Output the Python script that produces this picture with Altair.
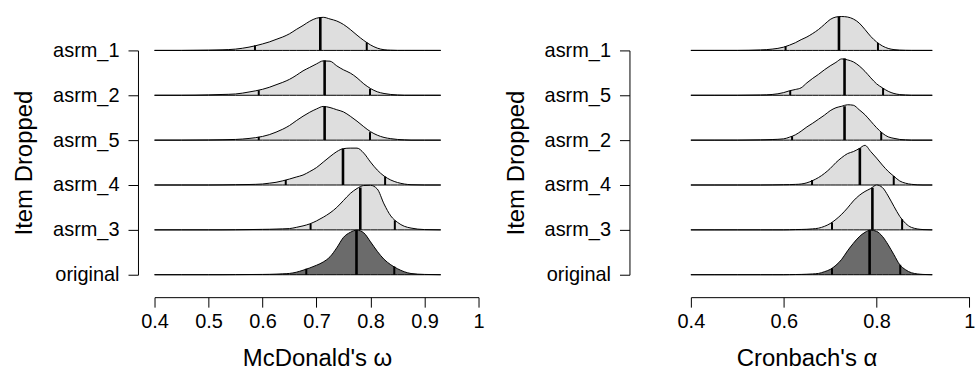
import altair as alt
import pandas as pd

# ---------------- data ----------------
# McDonald's omega panel (rows listed top to bottom)
OMEGA_ITEMS = ["asrm_1", "asrm_2", "asrm_5", "asrm_4", "asrm_3", "original"]
OMEGA_GRID = [0.40, 0.45, 0.50, 0.525, 0.55, 0.575, 0.60, 0.6125, 0.625, 0.6375,
              0.65, 0.6625, 0.675, 0.6875, 0.70, 0.7125, 0.725, 0.7375, 0.75, 0.7625,
              0.775, 0.7875, 0.80, 0.8125, 0.825, 0.8375, 0.85, 0.8625, 0.875, 0.90, 0.93]
OMEGA_ASRM_1 = [0, 0, 0.3, 0.6, 1.3, 3.3, 6.5, 8.5, 11, 13.5, 16.7, 21, 25, 29.3, 32.3, 33.2,
                31.5, 29.5, 26, 21, 15.3, 10, 5.5, 2.3, 0.7, 0.2, 0, 0, 0, 0, 0]
OMEGA_ASRM_2 = [0, 0, 0.4, 0.8, 1.3, 3.3, 6, 8, 10.5, 13, 16, 20, 24.5, 28, 31.5, 34.5,
                34.2, 29.5, 25.5, 22.3, 17.5, 11.5, 6.8, 3.5, 1.8, 0.8, 0.3, 0, 0, 0, 0]
OMEGA_ASRM_5 = [0, 0, 0.2, 0.4, 0.7, 1.7, 3.7, 5.5, 8, 11, 14.7, 19.5, 24, 28, 31.3, 33.8,
                32.7, 30.5, 28.3, 24, 19, 13.5, 8.5, 5, 2.7, 1.5, 0.7, 0.3, 0, 0, 0]
OMEGA_ASRM_4 = [0, 0, 0, 0.1, 0.3, 0.5, 1, 1.8, 2.7, 4.2, 6, 8, 10, 13.5, 17.5, 23,
                28.5, 33.5, 36.5, 37, 37, 32, 23, 15, 9, 5, 2.5, 1, 0.3, 0, 0]
OMEGA_ASRM_3 = [0, 0, 0, 0, 0.1, 0.3, 0.5, 0.6, 0.8, 1, 1.3, 2.5, 4, 6, 9, 12.7,
                17, 22.5, 29.5, 36.5, 41.5, 44.5, 44.7, 41, 26, 14, 7.5, 3.6, 1.8, 0.3, 0]
OMEGA_ORIGINAL = [0, 0, 0, 0, 0.1, 0.2, 0.3, 0.4, 0.6, 0.9, 1.3, 2.5, 4.5, 6.8, 9.5, 12.8,
                  18, 27, 37.5, 42.5, 44.7, 42, 33, 23.5, 15.5, 10, 6, 3, 1.2, 0.3, 0]
OMEGA_MEDIAN = [0.707, 0.715, 0.715, 0.749, 0.781, 0.774]
OMEGA_LOWER = [0.586, 0.593, 0.593, 0.643, 0.689, 0.681]
OMEGA_UPPER = [0.793, 0.799, 0.799, 0.827, 0.845, 0.844]
OMEGA_MEDIAN_H = [33.3, 35, 34, 36.5, 42.5, 44.7]
OMEGA_LOWER_H = [5, 5, 3.3, 5, 6, 6]
OMEGA_UPPER_H = [8, 6.5, 8, 8.5, 9.5, 8.3]

# Cronbach's alpha panel (rows listed top to bottom)
ALPHA_ITEMS = ["asrm_1", "asrm_5", "asrm_2", "asrm_4", "asrm_3", "original"]
ALPHA_GRID = [0.40, 0.45, 0.50, 0.55, 0.575, 0.60, 0.6125, 0.625, 0.6375, 0.65,
              0.6625, 0.675, 0.6875, 0.70, 0.7125, 0.725, 0.7375, 0.75, 0.7625, 0.775,
              0.7875, 0.80, 0.8125, 0.825, 0.8375, 0.85, 0.8625, 0.875, 0.90, 0.92]
ALPHA_ASRM_1 = [0, 0, 0, 0.5, 1.3, 3.3, 5.3, 7.7, 10.8, 13.5, 17, 21, 26, 31, 33.5,
                34, 33.5, 31.5, 27.5, 21, 14, 8.5, 4.5, 2, 0.8, 0.3, 0.1, 0, 0, 0]
ALPHA_ASRM_5 = [0, 0, 0, 0.3, 0.8, 2.7, 4.5, 5.8, 7.5, 12.5, 17, 21, 25.5, 29.5, 33,
                36.5, 35.5, 33.5, 29.5, 24, 17.5, 11.5, 7.5, 4, 1.8, 0.7, 0.3, 0, 0, 0]
ALPHA_ASRM_2 = [0, 0, 0, 0.3, 0.6, 1.3, 3, 5.3, 9, 13.3, 17, 21, 25, 29.5, 32.5,
                34, 35.5, 35, 30.5, 25.5, 19, 12.5, 7, 3.3, 1.8, 0.7, 0.3, 0, 0, 0]
ALPHA_ASRM_4 = [0, 0, 0, 0, 0.1, 0.3, 0.4, 0.6, 1, 2.2, 4.5, 7.5, 11.5, 16.5, 22.5,
                27.5, 31.5, 33.5, 36.5, 39.8, 33.5, 27, 20, 13.7, 8.7, 4, 1.8, 0.7, 0, 0]
ALPHA_ASRM_3 = [0, 0, 0, 0, 0, 0, 0.1, 0.3, 0.4, 0.6, 1, 1.7, 3.5, 6.3, 10.5,
                15.7, 22, 29, 34.5, 38.5, 41.5, 45, 42.5, 34, 23.5, 13.5, 6.5, 2.5, 0.3, 0]
ALPHA_ORIGINAL = [0, 0, 0, 0, 0, 0, 0.1, 0.2, 0.3, 0.5, 0.8, 1.3, 3, 5.3, 9.5,
                  15.5, 24, 31.5, 38, 42.5, 44.7, 43.5, 38.5, 30, 20, 10, 5, 2, 0.3, 0]
ALPHA_MEDIAN = [0.719, 0.731, 0.731, 0.764, 0.791, 0.785]
ALPHA_LOWER = [0.604, 0.614, 0.618, 0.661, 0.704, 0.704]
ALPHA_UPPER = [0.803, 0.814, 0.810, 0.837, 0.855, 0.851]
ALPHA_MEDIAN_H = [34, 37, 34, 37, 42.3, 44.7]
ALPHA_LOWER_H = [4.3, 4.7, 4, 5, 7.3, 6.5]
ALPHA_UPPER_H = [7.5, 7.3, 8, 9, 10.7, 10]

OMEGA_TICKS = [0.4, 0.5, 0.6, 0.7, 0.8, 0.9, 1.0]
ALPHA_TICKS = [0.4, 0.6, 0.8, 1.0]

# ridge scale: density units that fill one row
RIDGE_SCALE = 45.0
FONT = "Liberation Sans"


def frames(items, grid, curves, med, lo, hi, med_h, lo_h, hi_h):
    n = len(items)
    area_rows, rule_rows = [], []
    for i, item in enumerate(items):
        row = n - 1 - i
        kind = "original" if item == "original" else "dropped"
        for x, h in zip(grid, curves[i]):
            area_rows.append({"item": item, "x": x, "base": row,
                              "top": row + h / RIDGE_SCALE, "kind": kind})
        for x, h, part in ((med[i], med_h[i], "median"),
                           (lo[i], lo_h[i], "ci"), (hi[i], hi_h[i], "ci")):
            rule_rows.append({"item": item, "x": x, "base": row,
                              "top": row + h / RIDGE_SCALE, "part": part})
    return pd.DataFrame(area_rows), pd.DataFrame(rule_rows)


def panel(items, grid, curves, med, lo, hi, med_h, lo_h, hi_h,
          width, ticks, xtitle, y_offset, title_x):
    areas, rules = frames(items, grid, curves, med, lo, hi, med_h, lo_h, hi_h)
    labels = list(reversed(items))
    label_expr = "[" + ",".join("'%s'" % s for s in labels) + "][datum.value]"
    xenc = alt.X("x:Q", scale=alt.Scale(domain=[0.4, 1.0], nice=False, zero=False),
                 axis=alt.Axis(values=ticks, format="~g", title=xtitle, offset=22.5,
                               tickSize=10, labelPadding=4, titlePadding=16,
                               titleX=title_x, titleAlign="center", labelFlush=False,
                               grid=False))
    yenc = alt.Y("top:Q", scale=alt.Scale(domain=[0, len(items) - 1], nice=False, zero=False),
                 axis=alt.Axis(values=list(range(len(items))), labelExpr=label_expr,
                               title="Item Dropped", offset=y_offset, tickSize=10,
                               labelPadding=9, titlePadding=16, grid=False,
                               labelFlush=False))
    area = alt.Chart(areas).mark_area(
        interpolate="monotone", stroke="black", strokeWidth=1, fillOpacity=1
    ).encode(
        x=xenc, y=yenc, y2="base:Q",
        color=alt.Color("kind:N", scale=alt.Scale(domain=["dropped", "original"],
                                                  range=["#dedede", "#6b6b6b"]), legend=None),
        detail="item:N",
    )
    rule = alt.Chart(rules).mark_rule(color="black", strokeCap="butt").encode(
        x=xenc, y=yenc, y2="base:Q",
        strokeWidth=alt.StrokeWidth("part:N", scale=alt.Scale(domain=["median", "ci"],
                                                               range=[2.6, 2.0]), legend=None),
        detail="item:N",
    )
    return alt.layer(area, rule).properties(width=width, height=225)


left = panel(OMEGA_ITEMS, OMEGA_GRID,
             [OMEGA_ASRM_1, OMEGA_ASRM_2, OMEGA_ASRM_5, OMEGA_ASRM_4, OMEGA_ASRM_3, OMEGA_ORIGINAL],
             OMEGA_MEDIAN, OMEGA_LOWER, OMEGA_UPPER, OMEGA_MEDIAN_H, OMEGA_LOWER_H, OMEGA_UPPER_H,
             325, OMEGA_TICKS, "McDonald's ω", 16.6, 163)
right = panel(ALPHA_ITEMS, ALPHA_GRID,
              [ALPHA_ASRM_1, ALPHA_ASRM_5, ALPHA_ASRM_2, ALPHA_ASRM_4, ALPHA_ASRM_3, ALPHA_ORIGINAL],
              ALPHA_MEDIAN, ALPHA_LOWER, ALPHA_UPPER, ALPHA_MEDIAN_H, ALPHA_LOWER_H, ALPHA_UPPER_H,
              279.4, ALPHA_TICKS, "Cronbach's α", 61.6, 116)

chart = alt.hconcat(left, right, spacing=213, bounds="flush").properties(
    padding={"left": 12, "top": 13, "right": 0, "bottom": 0}
).configure_axis(
    labelFont=FONT, labelFontSize=20, labelColor="black",
    titleFont=FONT, titleFontSize=24, titleFontWeight="normal", titleColor="black",
    domainColor="black", domainWidth=1, tickColor="black", tickWidth=1,
).configure_view(stroke=None)

chart.save("out.html", embed_options={"renderer": "svg", "actions": False})
